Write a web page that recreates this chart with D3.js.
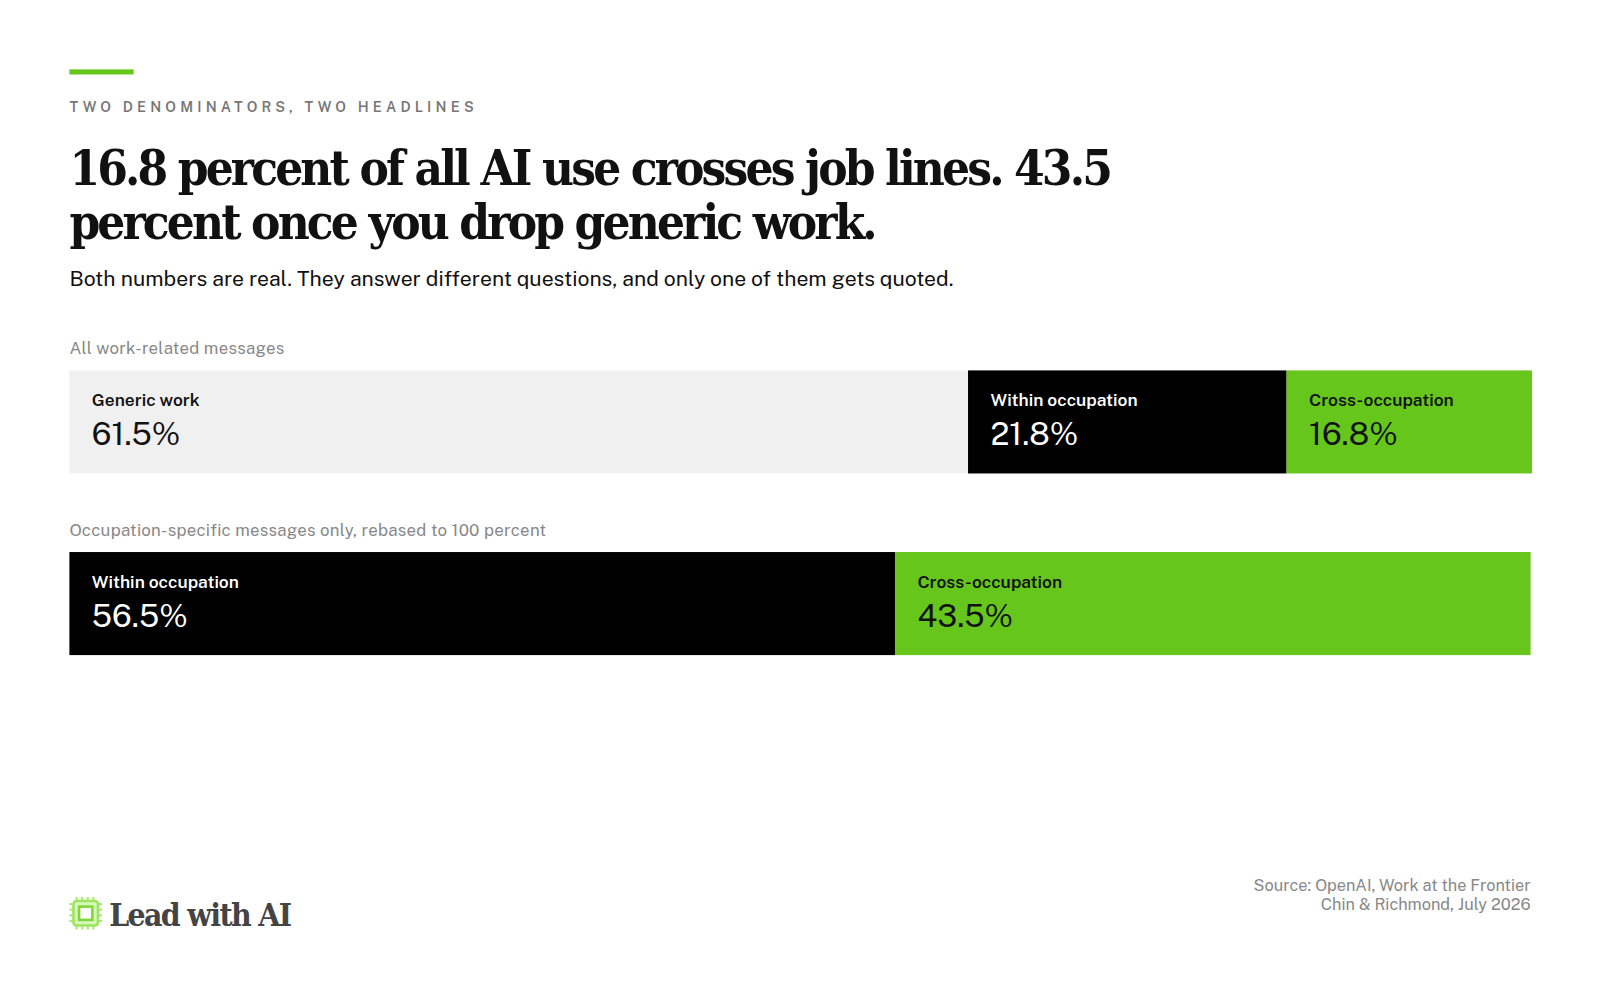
<!DOCTYPE html>
<html lang="en">
<head>
<meta charset="UTF-8">
<title>Two denominators</title>
<script src="https://cdn.jsdelivr.net/npm/d3@7"></script>
<style>
  body { margin: 0; background: #fff; }
</style>
</head>
<body>
<div id="chart"></div>
<script>
    // data
    const rowLabels = ["All work-related messages", "Occupation-specific messages only, rebased to 100 percent"];
    const row1Cats = ["Generic work", "Within occupation", "Cross-occupation"];
    const row1Vals = [61.5, 21.8, 16.8];
    const row2Cats = ["Within occupation", "Cross-occupation"];
    const row2Vals = [56.5, 43.5];

    const colors = {"Generic work": "#f0f0f0", "Within occupation": "#000000", "Cross-occupation": "#66c61c"};
    const textColors = {"Generic work": "#111", "Within occupation": "#fff", "Cross-occupation": "#111"};

    const width = 1600, height = 1000;
    const left = 68, right = 1500;
    const sans = "'Public Sans', Inter, 'Noto Sans', sans-serif";
    const serif = "'DejaVu Serif', serif";

    const root = d3.select("#chart").append("svg")
        .attr("width", width).attr("height", height);
    const svg = root.append("g").attr("transform", "scale(1.0204)");

    svg.append("rect").attr("x", left).attr("y", 68).attr("width", 63).attr("height", 5).attr("fill", "#66c61c");

    svg.append("text").attr("x", left).attr("y", 110)
        .attr("font-family", sans).attr("font-size", 14).attr("font-weight", 600)
        .attr("letter-spacing", 4.1).attr("fill", "#777")
        .text("TWO DENOMINATORS, TWO HEADLINES");

    const title = ["16.8 percent of all AI use crosses job lines. 43.5", "percent once you drop generic work."];
    svg.selectAll("text.title").data(title).join("text")
        .attr("class", "title")
        .attr("x", left).attr("y", (d, i) => 181 + i * 53)
        .attr("font-family", serif).attr("font-size", 48).attr("font-weight", 700)
        .attr("font-stretch", "condensed").attr("letter-spacing", -2.8)
        .attr("fill", "#111").text(d => d);

    svg.append("text").attr("x", left).attr("y", 280)
        .attr("font-family", sans).attr("font-size", 20.75).attr("fill", "#111")
        .text("Both numbers are real. They answer different questions, and only one of them gets quoted.");

    const x = d3.scaleLinear().domain([0, 100]).range([left, right]);

    function drawRow(label, cats, vals, top) {
        svg.append("text").attr("x", left).attr("y", top - 16)
            .attr("font-family", sans).attr("font-size", 16.5).attr("fill", "#888")
            .attr("letter-spacing", 0.25)
            .text(label);
        let acc = 0;
        const segs = cats.map((c, i) => { const s = {cat: c, v: vals[i], x0: acc}; acc += vals[i]; return s; });
        const g = svg.append("g");
        const seg = g.selectAll("g").data(segs).join("g")
            .attr("transform", d => `translate(${x(d.x0)},${top})`);
        seg.append("rect")
            .attr("width", d => x(d.x0 + d.v) - x(d.x0))
            .attr("height", 101)
            .attr("fill", d => colors[d.cat]);
        seg.append("text").attr("x", 22).attr("y", 35)
            .attr("font-family", sans).attr("font-size", 17).attr("font-weight", 600)
            .attr("fill", d => textColors[d.cat]).text(d => d.cat);
        seg.append("text").attr("x", 22).attr("y", 73)
            .attr("font-family", sans).attr("font-size", 31)
            .attr("fill", d => textColors[d.cat]).text(d => d.v.toFixed(1) + "%");
    }

    drawRow(rowLabels[0], row1Cats, row1Vals, 363);
    drawRow(rowLabels[1], row2Cats, row2Vals, 541);

    // footer logo: small chip
    const logo = svg.append("g").attr("transform", "translate(68,879)");
    const pins = d3.range(4).map(i => 7 + i * 5.5);
    pins.forEach(p => {
        logo.append("rect").attr("x", p - 1).attr("y", 0).attr("width", 2).attr("height", 3).attr("fill", "#a6ea6a");
        logo.append("rect").attr("x", p - 1).attr("y", 29).attr("width", 2).attr("height", 3).attr("fill", "#a6ea6a");
        logo.append("rect").attr("x", 0).attr("y", p - 1).attr("width", 3).attr("height", 2).attr("fill", "#a6ea6a");
        logo.append("rect").attr("x", 29).attr("y", p - 1).attr("width", 3).attr("height", 2).attr("fill", "#a6ea6a");
    });
    logo.append("rect").attr("x", 4).attr("y", 4).attr("width", 24).attr("height", 24).attr("rx", 3)
        .attr("fill", "#d8f7bc").attr("stroke", "#9be55c").attr("stroke-width", 2.5);
    logo.append("rect").attr("x", 9.5).attr("y", 9.5).attr("width", 13).attr("height", 13)
        .attr("fill", "#fff").attr("stroke", "#7ed63a").attr("stroke-width", 2.5);
    svg.append("text").attr("x", 107).attr("y", 907)
        .attr("font-family", serif).attr("font-size", 31).attr("font-weight", 700)
        .attr("font-stretch", "condensed").attr("letter-spacing", -1.6)
        .attr("fill", "#444").text("Lead with AI");

    const src = ["Source: OpenAI, Work at the Frontier", "Chin & Richmond, July 2026"];
    svg.selectAll("text.src").data(src).join("text").attr("class", "src")
        .attr("x", right).attr("y", (d, i) => 873 + i * 19).attr("text-anchor", "end")
        .attr("font-family", sans).attr("font-size", 16).attr("fill", "#888").text(d => d);
</script>
</body>
</html>
